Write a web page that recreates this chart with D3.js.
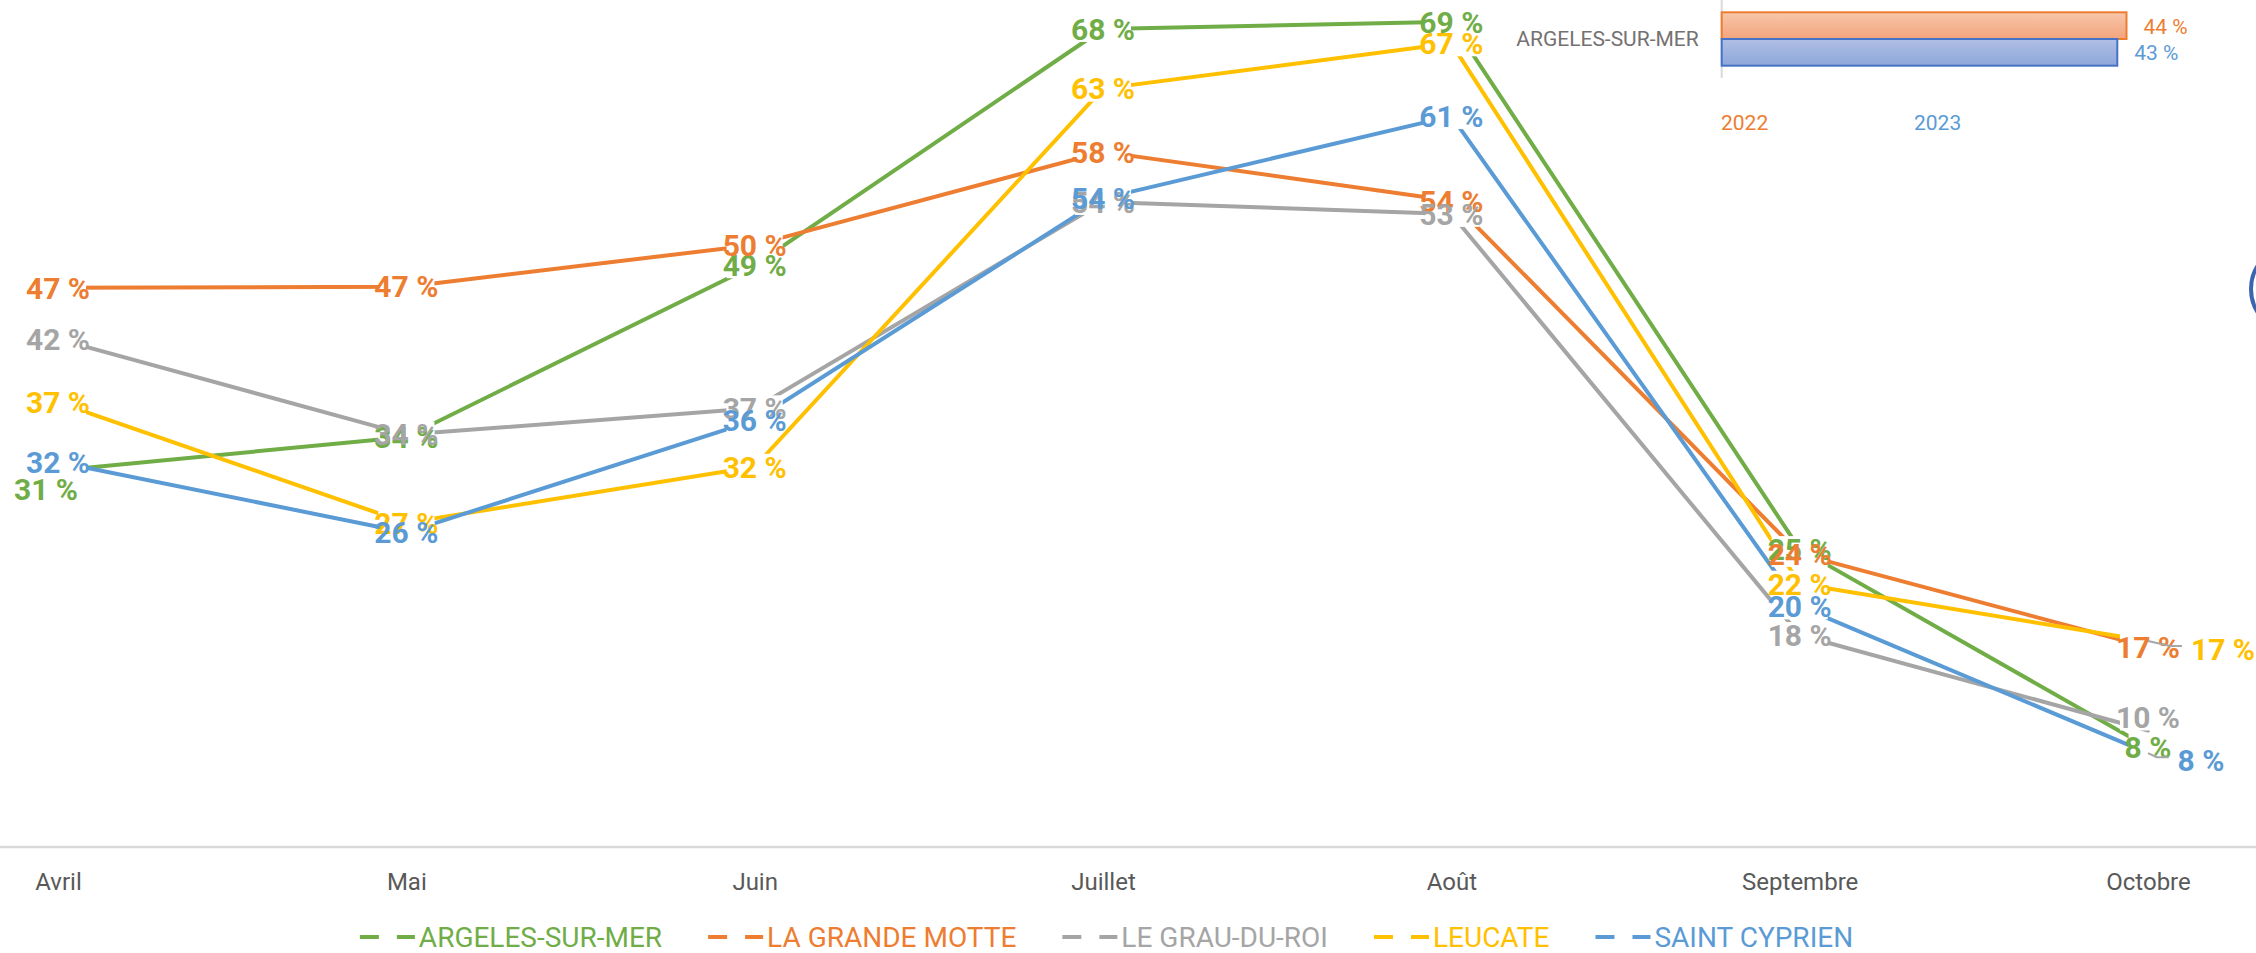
<!DOCTYPE html>
<html lang="fr">
<head>
<meta charset="utf-8">
<title>Taux d'occupation par station</title>
<script src="https://cdn.jsdelivr.net/npm/d3@7"></script>
<style>
  html, body { margin: 0; padding: 0; background: #fff; }
  svg { display: block; font-family: Roboto, "Open Sans", sans-serif; }
</style>
</head>
<body>
<svg id="chart" width="2256" height="953"></svg>
<script>
/* ============================================================
   Données (en %)
============================================================ */
const months = ["Avril", "Mai", "Juin", "Juillet", "Août", "Septembre", "Octobre"];
const seriesNames = ["ARGELES-SUR-MER", "LA GRANDE MOTTE", "LE GRAU-DU-ROI", "LEUCATE", "SAINT CYPRIEN"];

const argelesValues     = [31.4, 34.2, 48.6, 68.4, 69.0, 24.8, 8.2];
const grandeMotteValues = [46.7, 46.8, 50.3, 58.1, 54.0, 24.4, 16.6];
const grauDuRoiValues   = [42.4, 34.4, 36.6, 53.9, 52.9, 17.6, 9.6];
const leucateValues     = [37.1, 27.0, 31.7, 63.4, 67.2, 21.9, 17.1];
const saintCyprienValues = [32.1, 26.2, 35.6, 54.2, 61.1, 20.0, 7.7];

// petit graphique en barres (recadré, en haut à droite)
const insetCategory = "ARGELES-SUR-MER";
const insetYears = ["2022", "2023"];
const insetValues = [44, 43];


/* ============================================================
   Styles / mise en page
============================================================ */
const W = 2256, H = 953;
const seriesColors = ["#70AD47", "#ED7D31", "#A5A5A5", "#FFC000", "#5B9BD5"];
const yearColors = ["#ED7D31", "#5B9BD5"];

// étiquettes déplacées à la main dans l'original (dx, dy en px)
const labelNudges = {
  "ARGELES-SUR-MER|Avril": [-12, 19],
  "LE GRAU-DU-ROI|Octobre": [0, -13],
  "LEUCATE|Octobre": [75, 8],
  "SAINT CYPRIEN|Octobre": [53, 7]
};
const withLeader = new Set(["LEUCATE|Octobre", "SAINT CYPRIEN|Octobre"]);

const series = [argelesValues, grandeMotteValues, grauDuRoiValues, leucateValues, saintCyprienValues]
  .map((values, i) => ({ name: seriesNames[i], color: seriesColors[i], values }));

const svg = d3.select("#chart");
svg.append("rect").attr("width", W).attr("height", H).attr("fill", "#fff");

// l'image est un recadrage : l'axe Y (0–80 %) dépasse en haut
const x = d3.scalePoint().domain(months).range([58, 2148]);
const y = d3.scaleLinear().domain([0, 80]).range([845, -109.4]);


/* ---------- axe des catégories ---------- */
const xAxis = svg.append("g")
  .attr("transform", `translate(0,${y(0) + 2})`)
  .call(d3.axisBottom(x).tickSize(0).tickPadding(26));
xAxis.select(".domain").remove();
xAxis.selectAll("text")
  .attr("fill", "#595959")
  .style("font-size", "24px")
  .style("font-family", "Roboto, sans-serif");

svg.append("line")
  .attr("x1", 0).attr("x2", W)
  .attr("y1", y(0) + 2).attr("y2", y(0) + 2)
  .attr("stroke", "#d9d9d9").attr("stroke-width", 2.5);


/* ---------- lignes ---------- */
const line = d3.line()
  .x((d, i) => x(months[i]))
  .y((d) => y(d));

svg.append("g").selectAll("path")
  .data(series)
  .join("path")
  .attr("d", (s) => line(s.values))
  .attr("fill", "none")
  .attr("stroke", (s) => s.color)
  .attr("stroke-width", 4)
  .attr("stroke-linejoin", "round")
  .attr("stroke-linecap", "round");


/* ---------- étiquettes de données ---------- */
const labels = [];
series.forEach((s) => {
  s.values.forEach((v, i) => {
    const key = `${s.name}|${months[i]}`;
    const [dx, dy] = labelNudges[key] || [0, 0];
    const px = x(months[i]), py = y(v);
    labels.push({
      px, py, cx: px + dx, cy: py + dy,
      text: `${Math.round(v)} %`,
      color: s.color,
      leader: withLeader.has(key)
    });
  });
});

// fonds blancs d'abord (masquent les lignes), puis les textes
const boxLayer = svg.append("g");
const textLayer = svg.append("g");

const labelText = textLayer.selectAll("text")
  .data(labels)
  .join("text")
  .attr("x", (d) => d.cx)
  .attr("y", (d) => d.cy)
  .attr("dy", "0.36em")
  .attr("text-anchor", "middle")
  .attr("fill", (d) => d.color)
  .style("font-size", "30px")
  .style("font-weight", 700)
  .text((d) => d.text);

labelText.each(function (d) { d.w = this.getComputedTextLength(); });

boxLayer.selectAll("rect")
  .data(labels)
  .join("rect")
  .attr("x", (d) => d.cx - (d.w - 8) / 2)
  .attr("y", (d) => d.cy - 13)
  .attr("width", (d) => d.w - 8)
  .attr("height", 26)
  .attr("fill", "#fff");

// lignes de rappel pour les étiquettes déplacées
svg.append("g").selectAll("path")
  .data(labels.filter((d) => d.leader))
  .join("path")
  .attr("d", (d) => {
    const ex = d.cx - d.w / 2 - 9;
    return `M${d.px},${d.py} L${ex - 12},${d.cy - 3} L${ex},${d.cy - 3}`;
  })
  .attr("fill", "none")
  .attr("stroke", "#a6a6a6")
  .attr("stroke-width", 2);


/* ---------- légende ---------- */
const legend = svg.append("g");
const legendItems = legend.selectAll("g")
  .data(series)
  .join("g");

legendItems.append("line")
  .attr("x1", 0).attr("x2", 55)
  .attr("y1", -10).attr("y2", -10)
  .attr("stroke", (s) => s.color)
  .attr("stroke-width", 4)
  .attr("stroke-dasharray", "19,18");

legendItems.append("text")
  .attr("x", 59)
  .attr("fill", (s) => s.color)
  .style("font-size", "28px")
  .text((s) => s.name);

let cursor = 0;
legendItems.each(function () {
  const tw = d3.select(this).select("text").node().getComputedTextLength();
  d3.select(this).attr("data-x", cursor);
  cursor += 59 + tw + 46;
});
const legendWidth = cursor - 46;
const legendStart = 1106.5 - legendWidth / 2;
legendItems.attr("transform", function () {
  return `translate(${legendStart + +this.getAttribute("data-x")},947)`;
});


/* ============================================================
   Petit graphique en barres (recadré)
============================================================ */
const defs = svg.append("defs");
[["grad2022", "#F7C6AA", "#F3A47C"], ["grad2023", "#B0BFE5", "#8EA7DA"]].forEach(([id, c0, c1]) => {
  const g = defs.append("linearGradient").attr("id", id)
    .attr("x1", 0).attr("x2", 0).attr("y1", 0).attr("y2", 1);
  g.append("stop").attr("offset", "0%").attr("stop-color", c0);
  g.append("stop").attr("offset", "100%").attr("stop-color", c1);
});

const xb = d3.scaleLinear().domain([0, 50]).range([1721.7, 2181.7]);
const yb = d3.scaleBand().domain(insetYears).range([12.3, 65.7]);
const barStroke = ["#ED7D31", "#4472C4"];

const inset = svg.append("g");

inset.append("line")
  .attr("x1", xb(0)).attr("x2", xb(0))
  .attr("y1", 0).attr("y2", 78)
  .attr("stroke", "#d9d9d9").attr("stroke-width", 2);

inset.selectAll("rect.bar")
  .data(insetValues)
  .join("rect")
  .attr("class", "bar")
  .attr("x", xb(0))
  .attr("y", (d, i) => yb(insetYears[i]))
  .attr("width", (d) => xb(d) - xb(0))
  .attr("height", yb.bandwidth())
  .attr("fill", (d, i) => `url(#grad${insetYears[i]})`)
  .attr("stroke", (d, i) => barStroke[i])
  .attr("stroke-width", 2);

inset.selectAll("text.val")
  .data(insetValues)
  .join("text")
  .attr("class", "val")
  .attr("x", (d) => xb(d) + 17)
  .attr("y", (d, i) => yb(insetYears[i]) + yb.bandwidth() / 2 + 8)
  .attr("fill", (d, i) => yearColors[i])
  .style("font-size", "21px")
  .text((d) => `${d} %`);

inset.append("text")
  .attr("x", xb(0) - 23)
  .attr("y", 46)
  .attr("text-anchor", "end")
  .attr("fill", "#767171")
  .style("font-size", "21px")
  .text(insetCategory);

// légende du petit graphique
inset.selectAll("text.year")
  .data(insetYears)
  .join("text")
  .attr("class", "year")
  .attr("x", (d, i) => 1721 + i * 193)
  .attr("y", 130)
  .attr("fill", (d, i) => yearColors[i])
  .style("font-size", "21px")
  .text((d) => d);

// bord d'un bouton rond coupé par le cadrage
svg.append("circle")
  .attr("cx", 2295).attr("cy", 289).attr("r", 44)
  .attr("fill", "none")
  .attr("stroke", "#3c64b1")
  .attr("stroke-width", 4);
</script>
</body>
</html>
